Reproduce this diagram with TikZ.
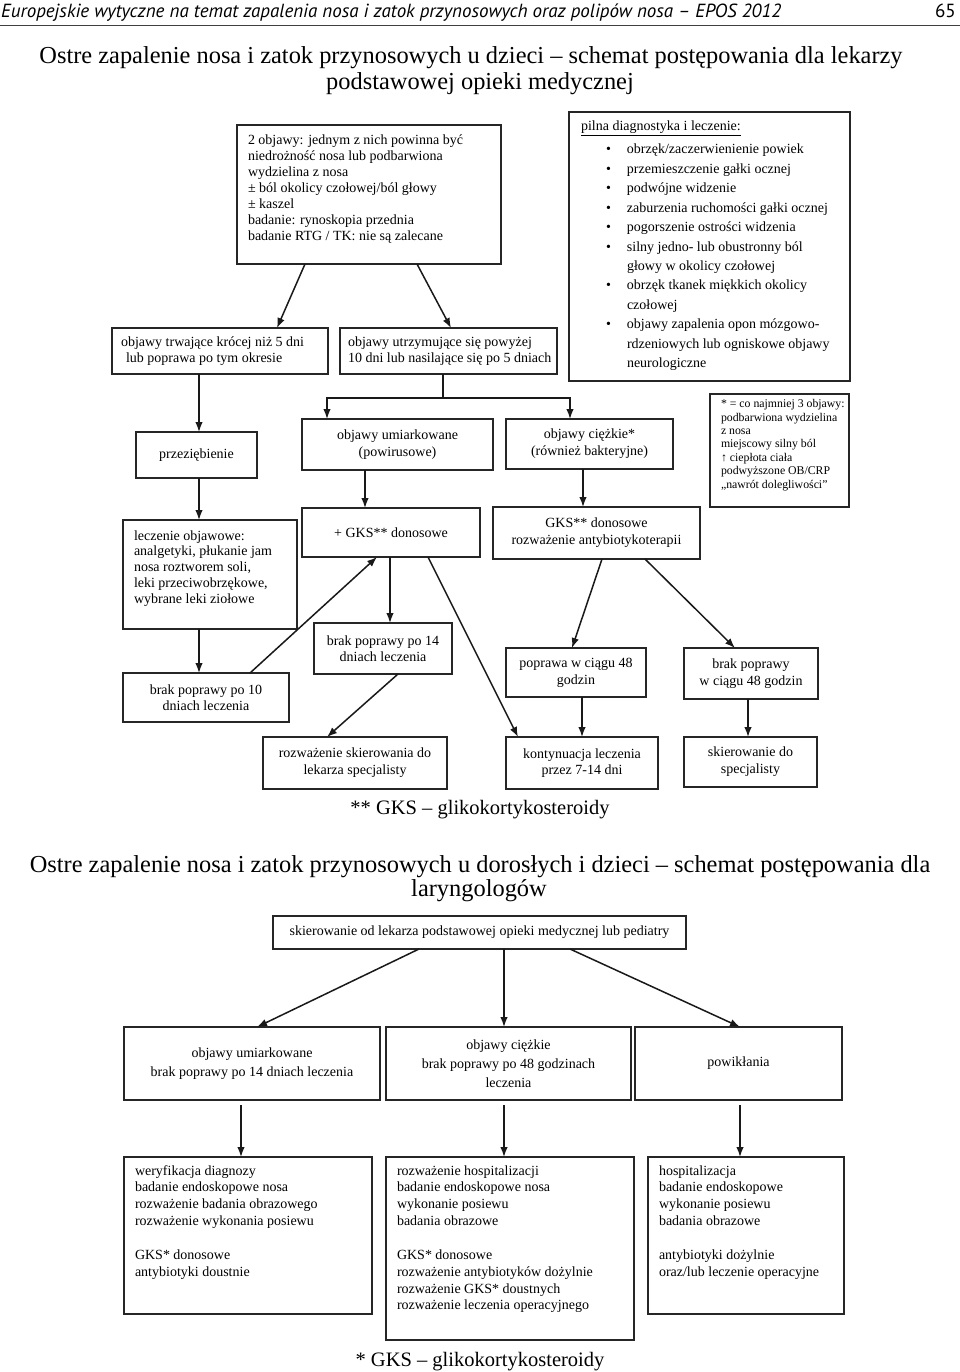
\documentclass[tikz,border=0pt]{standalone}
\usepackage{fontspec}
\setmainfont{Liberation Serif}
\newfontfamily\hdrfont{PT Sans}
\usetikzlibrary{arrows.meta,calc}
% top-aligned, left-aligned box content: width, height, first baseline offset, left pad, text
\newcommand\TL[5]{\parbox[c][#2pt][t]{#1pt}{\raggedright\leftskip=#4pt\relax\rightskip=-200pt plus 1fil\relax\rule{0pt}{#3pt}#5}}
% centred box content: width, height, text
\newcommand\CB[3]{\parbox[c][#2pt][c]{#1pt}{\centering\leftskip=-100pt plus 1fil\relax\rightskip=-100pt plus 1fil\relax #3}}
\newcommand\BI{\hspace*{25pt}\makebox[21pt][l]{\textbullet}}
\newcommand\CI{\hspace*{46pt}}
\begin{document}
\begin{tikzpicture}[x=1pt,y=-1pt,
  box/.style={draw=black!85, line width=1.1pt, inner sep=0pt, outer sep=0pt, anchor=north west, text=black},
  arr/.style={-{Latex[length=10pt,width=7.5pt]}, line width=1.5pt, draw=black!90},
  ln/.style={line width=1.5pt, draw=black!90},
  fm/.style={font=\fontsize{14}{16}\selectfont},
  fc/.style={font=\fontsize{14}{17}\selectfont},
  fw/.style={font=\fontsize{14}{16.7}\selectfont},
  fl/.style={font=\fontsize{14}{19}\selectfont},
  ttl/.style={anchor=base, inner sep=0pt, font=\fontsize{24.4}{26}\selectfont},
  foot/.style={anchor=base, inner sep=0pt, font=\fontsize{20.5}{24}\selectfont}]
\useasboundingbox (0,0) rectangle (960,1372);

% header
\node[anchor=base west, inner sep=0pt, font=\hdrfont\itshape\fontsize{19}{22}\selectfont] (hdr) at (1,18) {Europejskie wytyczne na temat zapalenia nosa i zatok przynosowych oraz polipów nosa – EPOS 2012};
\node[anchor=base east, inner sep=0pt, font=\hdrfont\fontsize{19}{22}\selectfont] (pg) at (956,18) {65};
\draw[line width=1pt, black!75] (0,26) -- (960,26);

% title 1
\node[ttl] (t1a) at (471,64) {Ostre zapalenie nosa i zatok przynosowych u dzieci – schemat postępowania dla lekarzy};
\node[ttl] (t1b) at (480,90) {podstawowej opieki medycznej};

% upper chart
\node[box, fm] (A) at (237,125) {\TL{264}{139}{20}{11}{2 objawy: jednym z nich powinna być\\ niedrożność nosa lub podbarwiona\\ wydzielina z nosa\\ ± ból okolicy czołowej/ból głowy\\ ± kaszel\\ badanie: rynoskopia przednia\\ badanie RTG / TK: nie są zalecane}};
\node[box, fm] (B) at (112,328) {\TL{216}{46}{18.5}{9}{objawy trwające krócej niż 5 dni\\ \hspace*{5pt}lub poprawa po tym okresie}};
\node[box, fm] (C) at (340,328) {\TL{217}{46}{18.5}{8}{objawy utrzymujące się powyżej\\ 10 dni lub nasilające się po 5 dniach}};
\node[box, font=\fontsize{14}{19.4}\selectfont] (D) at (569,112) {\TL{281}{269}{19}{12}{\underline{pilna diagnostyka i leczenie:}\\[3.6pt]
 \BI obrzęk/zaczerwienienie powiek\\
 \BI przemieszczenie gałki ocznej\\
 \BI podwójne widzenie\\
 \BI zaburzenia ruchomości gałki ocznej\\
 \BI pogorszenie ostrości widzenia\\
 \BI silny jedno- lub obustronny ból\\
 \CI głowy w okolicy czołowej\\
 \BI obrzęk tkanek miękkich okolicy\\
 \CI czołowej\\
 \BI objawy zapalenia opon mózgowo-\\
 \CI rdzeniowych lub ogniskowe objawy\\
 \CI neurologiczne}};

\node[box, fm] (E) at (136,432) {\CB{121}{46}{przeziębienie}};
\node[box, fc] (F) at (302,419) {\CB{191}{51}{objawy umiarkowane\\(powirusowe)}};
\node[box, fc] (G) at (506,419) {\CB{167}{50}{objawy ciężkie*\\(również bakteryjne)}};
\node[box, font=\fontsize{11.8}{13.4}\selectfont] (H) at (710,394) {\TL{139}{113}{13.7}{11}{* = co najmniej 3 objawy:\\ podbarwiona wydzielina\\ z nosa\\ miejscowy silny ból\\ ↑ ciepłota ciała\\ podwyższone OB/CRP\\ „nawrót dolegliwości”}};

\node[box, font=\fontsize{14}{15.8}\selectfont] (I) at (123,520) {\TL{174}{109}{20}{11}{leczenie objawowe:\\ analgetyki, płukanie jam\\ nosa roztworem soli,\\ leki przeciwobrzękowe,\\ wybrane leki ziołowe}};
\node[box, fc] (J) at (302,508) {\CB{178}{49}{+ GKS** donosowe}};
\node[box, fc] (K) at (493,507) {\CB{207}{52}{GKS** donosowe\\rozważenie antybiotykoterapii}};

\node[box, fm] (L) at (123,673) {\CB{166}{49}{brak poprawy po 10\\dniach leczenia}};
\node[box, fm] (M) at (314,623) {\CB{138}{51}{brak poprawy po 14\\dniach leczenia}};
\node[box, fc] (N) at (506,648) {\CB{140}{49}{poprawa w ciągu 48\\godzin}};
\node[box, fc] (O) at (684,648) {\CB{134}{51}{brak poprawy\\w ciągu 48 godzin}};

\node[box, fc] (P) at (263,737) {\CB{184}{52}{rozważenie skierowania do\\lekarza specjalisty}};
\node[box, fm] (Q) at (506,737) {\CB{152}{52}{kontynuacja leczenia\\przez 7-14 dni}};
\node[box, fc] (R) at (684,737) {\CB{133}{50}{skierowanie do\\specjalisty}};

\node[foot] (fn1) at (480,814) {** GKS – glikokortykosteroidy};

% upper connectors
\draw[arr] ([xshift=-64pt]A.south) -- ([xshift=57pt]B.north);
\draw[arr] ([xshift=48pt]A.south) -- ([xshift=2.5pt]C.north);
\draw[arr] ([xshift=-21pt]B.south) -- ([xshift=-21pt]B.south |- E.north);
\coordinate (split) at (443,398);
\draw[ln] ([xshift=-5.5pt]C.south) -- (split);
\draw[arr] (split) -| ([xshift=-70.5pt]F.north);
\draw[arr] (split) -| ([xshift=-19.5pt]G.north);
\draw[arr] ([xshift=2.5pt]E.south) -- ([xshift=2.5pt]E.south |- I.north);
\draw[arr] ([xshift=-32.5pt]F.south) -- ([xshift=-32.5pt]F.south |- J.north);
\draw[arr] ([xshift=-6.5pt]G.south) -- ([xshift=-6.5pt]G.south |- K.north);
\draw[arr] ([xshift=-11pt]I.south) -- ([xshift=-11pt]I.south |- L.north);
\draw[arr] ([xshift=44pt]L.north) -- ([xshift=-14pt]J.south);
\draw[arr] ([xshift=-1pt]J.south) -- ([xshift=-1pt]J.south |- M.north);
\draw[arr] ([xshift=37pt]J.south) -- ([xshift=-64pt]Q.north);
\draw[arr] ([xshift=15pt]M.south) -- ([xshift=-28pt]P.north);
\draw[arr] ([xshift=5.5pt]K.south) -- ([xshift=-4pt]N.north);
\draw[arr] ([xshift=48.5pt]K.south) -- ([xshift=-16pt]O.north);
\draw[arr] ([xshift=6pt]N.south) -- ([xshift=6pt]N.south |- Q.north);
\draw[arr] ([xshift=-3pt]O.south) -- ([xshift=-3pt]O.south |- R.north);

% title 2
\node[ttl] (t2a) at (480,872) {Ostre zapalenie nosa i zatok przynosowych u dorosłych i dzieci – schemat postępowania dla};
\node[ttl] (t2b) at (479,896) {laryngologów};

% lower chart
\node[box, fm] (S) at (273,916) {\CB{413}{33}{skierowanie od lekarza podstawowej opieki medycznej lub pediatry}};
\node[box, fl] (T) at (124,1027) {\CB{256}{73}{objawy umiarkowane\\brak poprawy po 14 dniach leczenia}};
\node[box, fl] (U) at (386,1027) {\CB{245}{73}{objawy ciężkie\\brak poprawy po 48 godzinach\\leczenia}};
\node[box, fl] (V) at (635,1027) {\CB{207}{73}{powikłania}};
\node[box, fw] (W) at (124,1157) {\TL{248}{157}{18}{11}{weryfikacja diagnozy\\ badanie endoskopowe nosa\\ rozważenie badania obrazowego\\ rozważenie wykonania posiewu\\[18pt] GKS* donosowe\\ antybiotyki doustnie}};
\node[box, fw] (X) at (386,1157) {\TL{248}{183}{18}{11}{rozważenie hospitalizacji\\ badanie endoskopowe nosa\\ wykonanie posiewu\\ badania obrazowe\\[18pt] GKS* donosowe\\ rozważenie antybiotyków dożylnie\\ rozważenie GKS* doustnych\\ rozważenie leczenia operacyjnego}};
\node[box, fw] (Y) at (648,1157) {\TL{196}{157}{18}{11}{hospitalizacja\\ badanie endoskopowe\\ wykonanie posiewu\\ badania obrazowe\\[18pt] antybiotyki dożylnie\\ oraz/lub leczenie operacyjne}};

\node[foot] (fn2) at (480,1366) {* GKS – glikokortykosteroidy};

% lower connectors
\draw[arr] ([xshift=-60.5pt]S.south) -- ([xshift=5pt]T.north);
\draw[arr] ([xshift=24.5pt]S.south) -- ([xshift=-4.5pt]U.north);
\draw[arr] ([xshift=90.5pt]S.south) -- ([xshift=1.5pt]V.north);
\draw[arr, shorten <=5pt] ([xshift=-11pt]T.south) -- ([xshift=-11pt]T.south |- W.north);
\draw[arr, shorten <=5pt] ([xshift=-4.5pt]U.south) -- ([xshift=-4.5pt]U.south |- X.north);
\draw[arr, shorten <=5pt] ([xshift=1.5pt]V.south) -- ([xshift=1.5pt]V.south |- Y.north);
\end{tikzpicture}
\end{document}
